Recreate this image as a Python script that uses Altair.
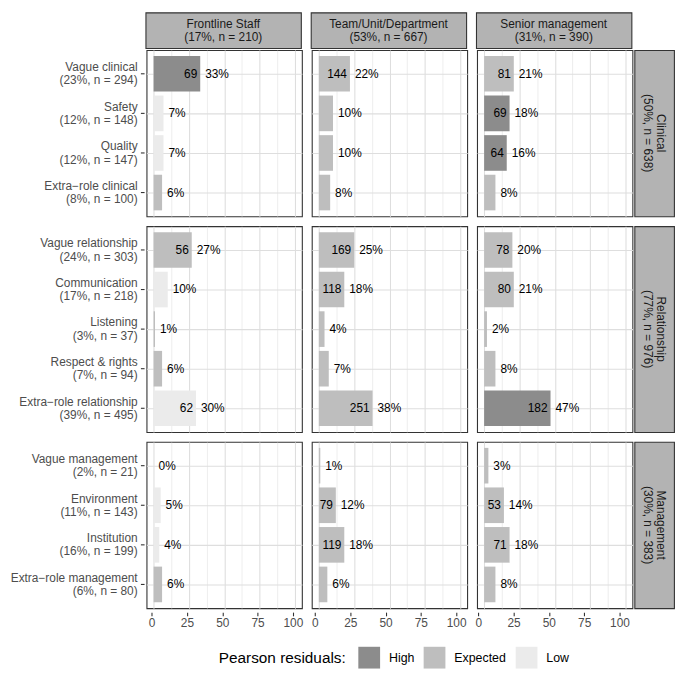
import altair as alt
import pandas as pd

# ---------------- data ----------------
columns = ["Frontline Staff", "Team/Unit/Department", "Senior management"]
column_stats = ["(17%, n = 210)", "(53%, n = 667)", "(31%, n = 390)"]

groups = ["Clinical", "Relationship", "Management"]
group_stats = ["(50%, n = 638)", "(77%, n = 976)", "(30%, n = 383)"]

categories = [
    ["Vague clinical", "Safety", "Quality", "Extra\u2212role clinical"],
    ["Vague relationship", "Communication", "Listening", "Respect & rights", "Extra\u2212role relationship"],
    ["Vague management", "Environment", "Institution", "Extra\u2212role management"],
]
category_stats = [
    ["(23%, n = 294)", "(12%, n = 148)", "(12%, n = 147)", "(8%, n = 100)"],
    ["(24%, n = 303)", "(17%, n = 218)", "(3%, n = 37)", "(7%, n = 94)", "(39%, n = 495)"],
    ["(2%, n = 21)", "(11%, n = 143)", "(16%, n = 199)", "(6%, n = 80)"],
]

# percentages per column (in category order, all groups concatenated)
pct_frontline = [33, 7, 7, 6, 27, 10, 1, 6, 30, 0, 5, 4, 6]
pct_team = [22, 10, 10, 8, 25, 18, 4, 7, 38, 1, 12, 18, 6]
pct_senior = [21, 18, 16, 8, 20, 21, 2, 8, 47, 3, 14, 18, 8]

count_frontline = [69, None, None, None, 56, None, None, None, 62, None, None, None, None]
count_team = [144, None, None, None, 169, 118, None, None, 251, None, 79, 119, None]
count_senior = [81, 69, 64, None, 78, 80, None, None, 182, None, 53, 71, None]

resid_frontline = ["High", "Low", "Low", "Expected", "Expected", "Low", "Expected", "Expected", "Low",
                   "Expected", "Low", "Low", "Expected"]
resid_team = ["Expected"] * 13
resid_senior = ["Expected", "High", "High", "Expected", "Expected", "Expected", "Expected", "Expected", "High",
                "Expected", "Expected", "Expected", "Expected"]

resid_levels = ["High", "Expected", "Low"]
resid_colors = ["#8c8c8c", "#bebebe", "#ebebeb"]

x_ticks_major = [0, 25, 50, 75, 100]
x_ticks_all = [0, 12.5, 25, 37.5, 50, 62.5, 75, 87.5, 100]

pcts = [pct_frontline, pct_team, pct_senior]
counts = [count_frontline, count_team, count_senior]
resids = [resid_frontline, resid_team, resid_senior]

rows = []
for ci, col in enumerate(columns):
    k = 0
    for gi, grp in enumerate(groups):
        for cat in categories[gi]:
            cnt = counts[ci][k]
            rows.append({
                "column": col, "group": grp, "cat": cat,
                "pct": pcts[ci][k],
                "clabel": "" if cnt is None else str(cnt),
                "plabel": f"{pcts[ci][k]}%",
                "resid": resids[ci][k],
            })
            k += 1
df = pd.DataFrame(rows)

# ---------------- layout / style ----------------
FONT = "Liberation Sans"
STEP = 40
PANEL_W = 157
LABEL_W = 138
STRIP_W = 40
TOP_H = 36
GAP = 8
STRIP_FILL = "#b3b3b3"
BORDER = "#333333"
GRID = "#dedede"
TEXT_FS = 12
LH = 13.5

legend = alt.Legend(
    orient="none", legendX=213, legendY=641, direction="horizontal",
    title="Pearson residuals:", titleOrient="left", titleFontSize=15.5, titleFontWeight="normal",
    titleColor="black", titlePadding=12, titleBaseline="middle", titleAnchor="middle",
    labelFontSize=12.5, labelColor="black", labelOffset=9, columnPadding=9,
    symbolType="square", symbolSize=484, symbolStrokeWidth=0, symbolOpacity=1, padding=0,
)

major = "datum.value % 25 === 0"

x_axis = alt.Axis(
    values=x_ticks_all, grid=True, gridColor=GRID,
    gridWidth={"condition": {"test": major, "value": 1.1}, "value": 0.55},
    labels=False, ticks=False, domain=False, title=None,
)

bottom_axis = alt.Axis(
    values=x_ticks_major, grid=False, labels=True, labelFlush=False, labelOverlap=False,
    labelFontSize=TEXT_FS, labelColor="#4d4d4d", labelPadding=2,
    ticks=True, tickSize=3.7, tickColor=BORDER, tickWidth=1.1, domain=False, title=None, offset=-1,
)

y_axis = alt.Axis(grid=True, gridColor=GRID, gridWidth=1.1, labels=False, ticks=False, domain=False, title=None)


def x_scale():
    return alt.Scale(domain=[-5, 105], nice=False, zero=False)


def y_scale(gi):
    return alt.Scale(domain=categories[gi], paddingInner=0.1, paddingOuter=0.15)


def row_height(gi):
    return STEP * (len(categories[gi]) + 0.2)


def panel(gi, ci):
    sub = df[(df["group"] == groups[gi]) & (df["column"] == columns[ci])]
    x = alt.X("pct:Q", scale=x_scale(), axis=x_axis)
    y = alt.Y("cat:N", scale=y_scale(gi), axis=y_axis)
    base = alt.Chart(sub)
    bars = base.mark_bar().encode(
        x=x, y=y,
        fill=alt.Fill("resid:N", scale=alt.Scale(domain=resid_levels, range=resid_colors), legend=legend),
    )
    cnt = base.transform_filter("datum.clabel != ''").mark_text(
        align="right", baseline="middle", dx=-3, fontSize=TEXT_FS, color="black"
    ).encode(x=x, y=y, text="clabel:N")
    pct = base.mark_text(
        align="left", baseline="middle", dx=5, fontSize=TEXT_FS, color="black"
    ).encode(x=x, y=y, text="plabel:N")
    return alt.layer(bars, cnt, pct).properties(
        width=PANEL_W, height=row_height(gi),
        view=alt.ViewBackground(stroke=BORDER, strokeWidth=1.1, fill="white"),
    )


def axis_view(ci):
    w = PANEL_W + (GAP if ci < 2 else 0)
    sub = df[df["column"] == columns[ci]]
    return alt.Chart(sub).mark_point(opacity=0).encode(
        x=alt.X("pct:Q", scale=alt.Scale(domain=[-5, 105], nice=False, zero=False, range=[0, PANEL_W]),
                axis=bottom_axis)
    ).properties(width=w, height=1, view=alt.ViewBackground(strokeWidth=0))


def label_view(gi):
    d = pd.DataFrame({
        "cat": categories[gi],
        "label": [c + "\n" + s for c, s in zip(categories[gi], category_stats[gi])],
    })
    y = alt.Y("cat:N", scale=y_scale(gi), axis=None)
    txt = alt.Chart(d).mark_text(
        align="right", baseline="middle", lineBreak="\n", lineHeight=LH, dy=-LH / 2,
        fontSize=TEXT_FS, color="#4d4d4d",
    ).encode(y=y, x=alt.value(LABEL_W - 7), text="label:N")
    ticks = alt.Chart(d).mark_rule(color=BORDER, strokeWidth=1.1).encode(
        y=y, x=alt.value(LABEL_W - 3.7), x2=alt.value(LABEL_W)
    )
    return alt.layer(txt, ticks).properties(
        width=LABEL_W, height=row_height(gi), view=alt.ViewBackground(strokeWidth=0)
    )


def row_strip(gi):
    h = row_height(gi)
    d = pd.DataFrame({"t": [groups[gi] + "\n" + group_stats[gi]]})
    return alt.Chart(d).mark_text(
        angle=90, align="center", baseline="middle", lineBreak="\n", lineHeight=LH, dy=-LH / 2,
        fontSize=TEXT_FS, color="#1a1a1a",
    ).encode(text="t:N", x=alt.value(STRIP_W / 2), y=alt.value(h / 2)).properties(
        width=STRIP_W, height=h,
        view=alt.ViewBackground(fill=STRIP_FILL, stroke=BORDER, strokeWidth=1.1),
    )


def col_strip(ci):
    d = pd.DataFrame({"t": [columns[ci] + "\n" + column_stats[ci]]})
    return alt.Chart(d).mark_text(
        align="center", baseline="middle", lineBreak="\n", lineHeight=LH, dy=-LH / 2,
        fontSize=TEXT_FS, color="#1a1a1a",
    ).encode(text="t:N", x=alt.value(PANEL_W / 2), y=alt.value(TOP_H / 2)).properties(
        width=PANEL_W, height=TOP_H,
        view=alt.ViewBackground(fill=STRIP_FILL, stroke=BORDER, strokeWidth=1.1),
    )


def spacer(h):
    return alt.Chart(pd.DataFrame({"t": [""]})).mark_rect(opacity=0).encode(
        x=alt.value(0), x2=alt.value(LABEL_W), y=alt.value(0), y2=alt.value(h)
    ).properties(width=LABEL_W, height=h, view=alt.ViewBackground(strokeWidth=0))


top_row = alt.hconcat(
    spacer(TOP_H), alt.hconcat(*[col_strip(c) for c in range(3)], spacing=GAP), spacing=0
)

body_rows = []
for gi in range(3):
    body_rows.append(
        alt.hconcat(
            label_view(gi),
            alt.hconcat(*[panel(gi, ci) for ci in range(3)], spacing=GAP),
            row_strip(gi),
            spacing=0,
        )
    )

axis_row = alt.hconcat(
    spacer(1), alt.hconcat(*[axis_view(c) for c in range(3)], spacing=0), spacing=0
)

chart = alt.vconcat(
    top_row, alt.vconcat(*body_rows, spacing=GAP), axis_row, spacing=0
).properties(padding=0, background="white").configure(font=FONT)

chart.save("out.html", embed_options={"renderer": "svg", "actions": False})
